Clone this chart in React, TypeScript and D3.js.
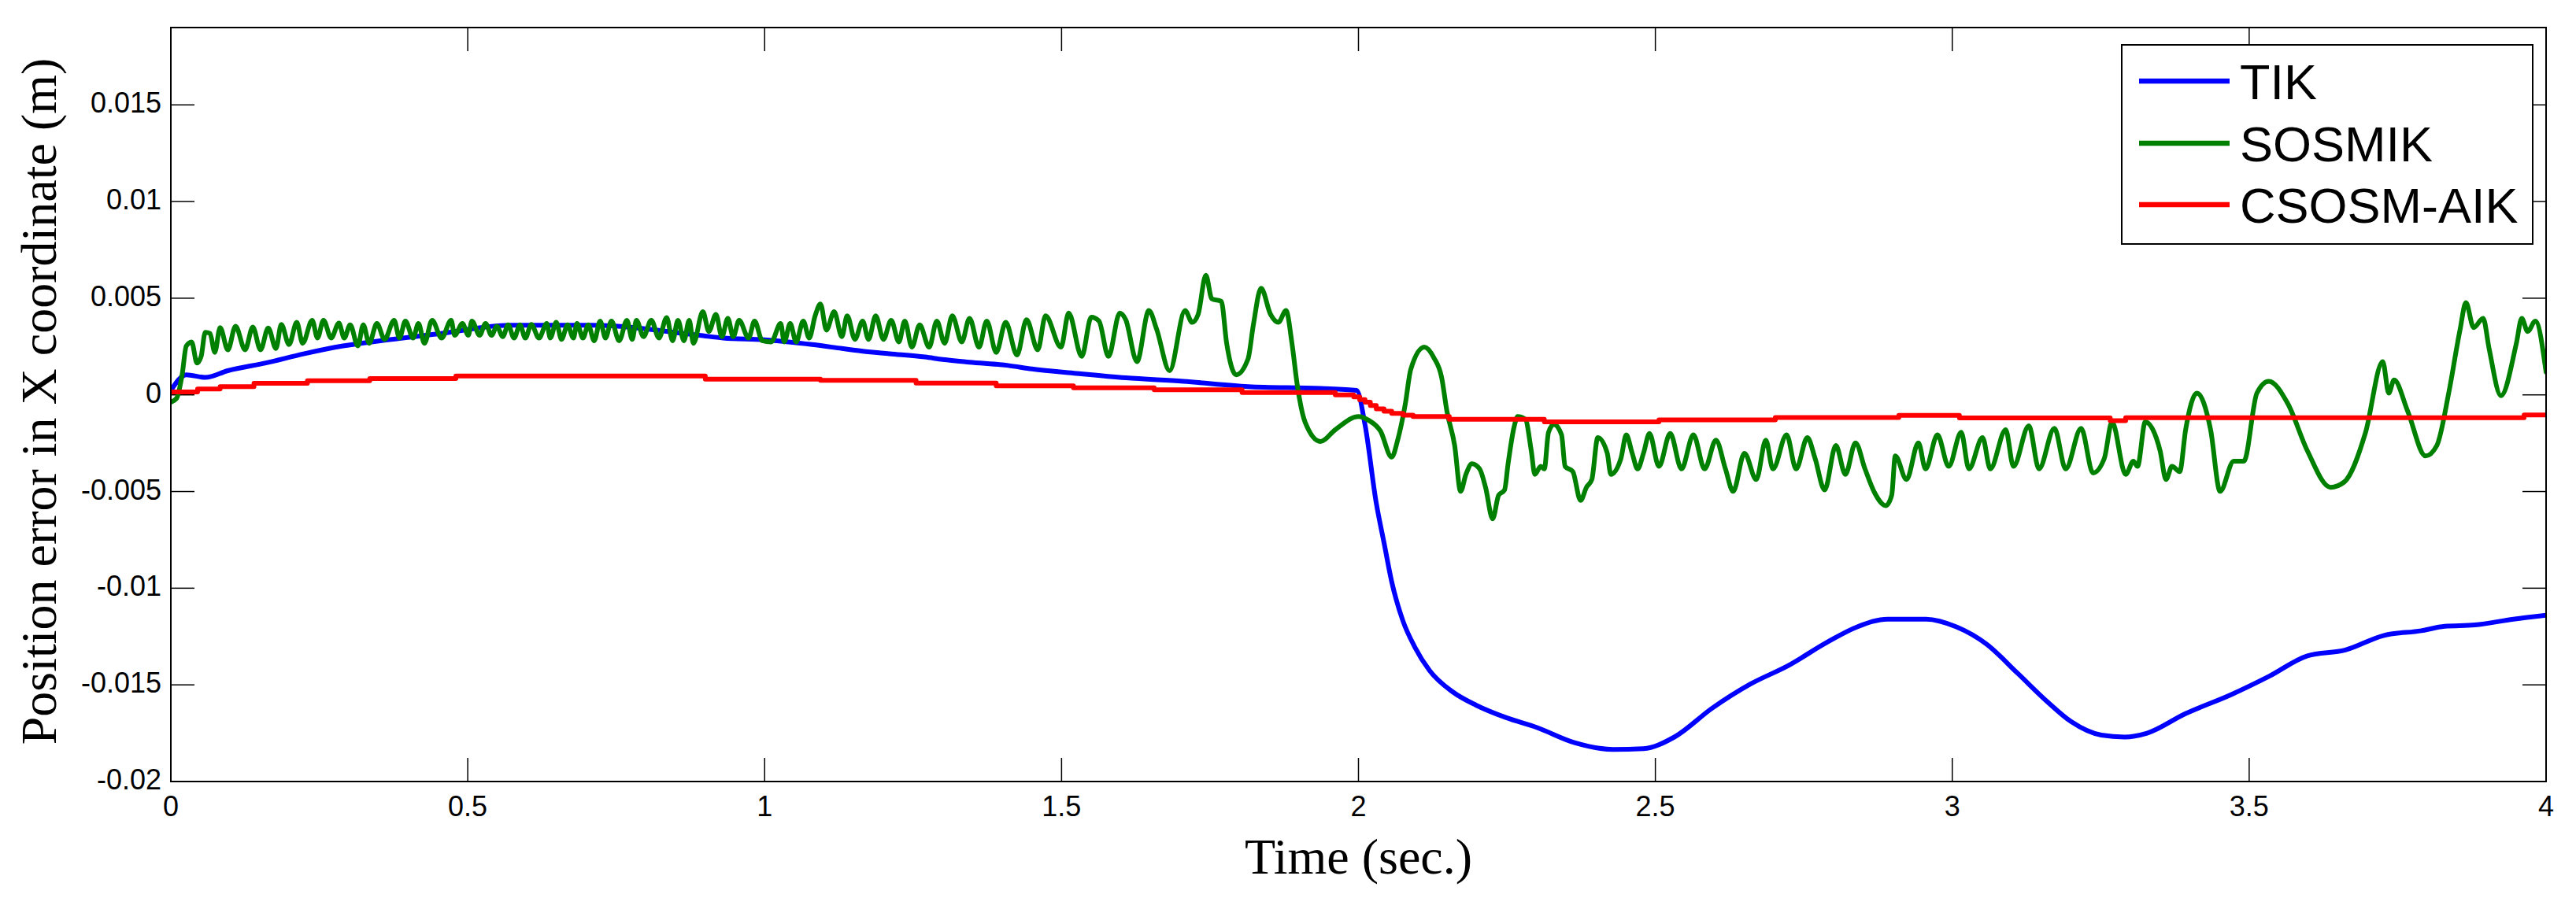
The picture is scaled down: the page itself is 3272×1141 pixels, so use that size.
import React from "react";
import * as d3 from "d3";

// time (s), position error (×1e-3 m)
const tikData: [number, number][] = [
  [0, 0.23], [0.026, 1.04], [0.058, 0.9], [0.096, 1.25], [0.16, 1.65], [0.225, 2.13], [0.29, 2.53],
  [0.353, 2.8], [0.45, 3.15], [0.57, 3.6], [0.71, 3.6], [0.89, 3.08], [0.93, 2.94], [1.0, 2.85],
  [1.08, 2.6], [1.13, 2.4], [1.165, 2.26], [1.21, 2.13], [1.27, 1.96], [1.3, 1.83], [1.345, 1.69],
  [1.41, 1.52], [1.45, 1.34], [1.525, 1.11], [1.608, 0.88], [1.705, 0.7], [1.814, 0.43], [1.936, 0.33],
  [1.997, 0.23], [2.011, -1.54], [2.03, -5.6], [2.043, -7.64], [2.056, -9.67], [2.075, -11.7],
  [2.095, -13.05], [2.12, -14.27], [2.159, -15.37], [2.198, -16.05], [2.249, -16.7], [2.3, -17.2],
  [2.365, -18.0], [2.429, -18.34], [2.48, -18.3], [2.532, -17.7], [2.596, -16.2], [2.66, -14.96],
  [2.724, -14.0], [2.789, -12.8], [2.84, -12.0], [2.891, -11.6], [2.956, -11.6], [3.007, -12.0],
  [3.058, -12.9], [3.11, -14.4], [3.161, -15.9], [3.2, -16.9], [3.251, -17.6], [3.29, -17.7],
  [3.328, -17.5], [3.392, -16.5], [3.47, -15.5], [3.534, -14.55], [3.598, -13.5], [3.662, -13.2],
  [3.726, -12.45], [3.79, -12.2], [3.829, -11.97], [3.88, -11.9], [3.945, -11.6], [4.0, -11.4],
];

const sosmikData: [number, number][] = [
  [0, -0.38], [0.0096, -0.18], [0.019, 1.04], [0.026, 2.53], [0.035, 2.74], [0.044, 1.65], [0.051, 1.99],
  [0.058, 3.24], [0.066, 3.18], [0.074, 2.2], [0.083, 3.48], [0.096, 2.33], [0.109, 3.55], [0.125, 2.33],
  [0.138, 3.51], [0.151, 2.33], [0.164, 3.46], [0.177, 2.4], [0.186, 3.64], [0.199, 2.6], [0.212, 3.75],
  [0.222, 2.67], [0.238, 3.86], [0.247, 2.94], [0.257, 3.86], [0.27, 2.94], [0.283, 3.71], [0.292, 2.94],
  [0.302, 3.62], [0.315, 2.53], [0.324, 3.62], [0.334, 2.67], [0.347, 3.69], [0.36, 2.87], [0.376, 3.86],
  [0.385, 2.94], [0.395, 3.82], [0.408, 2.94], [0.417, 3.69], [0.427, 2.67], [0.44, 3.86], [0.456, 2.94],
  [0.472, 3.86], [0.478, 3.08], [0.491, 3.69], [0.501, 3.08], [0.507, 3.82], [0.52, 3.08], [0.53, 3.69],
  [0.54, 3.08], [0.549, 3.55], [0.559, 3.01], [0.568, 3.62], [0.578, 2.94], [0.588, 3.62], [0.597, 2.94],
  [0.607, 3.64], [0.62, 2.94], [0.633, 3.69], [0.639, 2.94], [0.649, 3.75], [0.658, 2.87], [0.668, 3.62],
  [0.678, 2.94], [0.684, 3.69], [0.694, 2.94], [0.703, 3.62], [0.713, 2.8], [0.723, 3.82], [0.732, 2.94],
  [0.742, 3.82], [0.755, 2.8], [0.768, 3.86], [0.777, 2.87], [0.784, 3.86], [0.796, 3.01], [0.809, 3.86],
  [0.822, 2.94], [0.835, 4.0], [0.845, 2.8], [0.854, 3.86], [0.864, 2.8], [0.873, 3.86], [0.88, 2.67],
  [0.896, 4.3], [0.906, 3.28], [0.918, 4.16], [0.928, 3.01], [0.938, 3.96], [0.947, 3.01], [0.957, 3.86],
  [0.973, 2.94], [0.983, 3.82], [0.996, 2.8],
  [1.011, 2.74], [1.027, 3.69], [1.033, 2.74], [1.043, 3.69], [1.053, 2.74], [1.065, 3.82], [1.075, 2.94],
  [1.085, 4.09], [1.094, 4.7], [1.104, 3.35], [1.117, 4.3], [1.13, 3.01], [1.139, 4.09], [1.152, 2.87],
  [1.165, 3.82], [1.175, 2.87], [1.187, 4.09], [1.2, 2.87], [1.213, 3.86], [1.226, 2.74], [1.236, 3.82],
  [1.248, 2.47], [1.261, 3.62], [1.277, 2.47], [1.29, 3.82], [1.303, 2.67], [1.316, 4.09], [1.332, 2.74],
  [1.345, 3.96], [1.361, 2.47], [1.374, 3.82], [1.39, 2.2], [1.406, 3.75], [1.425, 2.06], [1.441, 3.89],
  [1.46, 2.33], [1.473, 4.09], [1.499, 2.47], [1.512, 4.23], [1.534, 1.99], [1.55, 4.02], [1.563, 3.82],
  [1.579, 1.99], [1.598, 4.23], [1.608, 3.89], [1.627, 1.72], [1.647, 4.36], [1.66, 3.41], [1.682, 1.25],
  [1.708, 4.36], [1.72, 3.75], [1.73, 4.16], [1.743, 6.19], [1.753, 4.97], [1.769, 4.84], [1.778, 2.67],
  [1.794, 1.04], [1.814, 1.86], [1.823, 3.62], [1.836, 5.51], [1.852, 4.16], [1.865, 3.75], [1.878, 4.36],
  [1.888, 2.67], [1.897, 0.5], [1.91, -1.4], [1.936, -2.41], [1.961, -1.8], [2.0, -1.12],
  [2.018, -1.33], [2.037, -1.87], [2.056, -3.22], [2.066, -2.34], [2.079, -0.45], [2.088, 1.31],
  [2.111, 2.47], [2.127, 1.92], [2.14, 0.91], [2.149, -0.85], [2.162, -2.62], [2.172, -4.99], [2.181, -4.11],
  [2.191, -3.56], [2.204, -3.83], [2.214, -4.78], [2.226, -6.41], [2.236, -5.19], [2.246, -4.92],
  [2.252, -3.56], [2.262, -1.67], [2.268, -1.12], [2.281, -1.26], [2.291, -2.89], [2.297, -4.11],
  [2.307, -3.7], [2.313, -3.83], [2.32, -1.94], [2.329, -1.53], [2.342, -2.07], [2.348, -3.7], [2.361, -3.97],
  [2.374, -5.46], [2.384, -4.78], [2.393, -4.38], [2.403, -2.21], [2.419, -3.02], [2.425, -4.11],
  [2.442, -3.29], [2.451, -2.07], [2.461, -3.02], [2.47, -3.83], [2.48, -3.02], [2.49, -2.0], [2.506, -3.7],
  [2.525, -2.0], [2.544, -3.83], [2.564, -2.07], [2.583, -3.83], [2.602, -2.34], [2.618, -3.83],
  [2.631, -4.99], [2.65, -3.02], [2.67, -4.38], [2.686, -2.34], [2.698, -3.83], [2.721, -2.07],
  [2.737, -3.83], [2.756, -2.21], [2.769, -3.29], [2.785, -4.92], [2.804, -2.62], [2.82, -4.11],
  [2.837, -2.48], [2.853, -3.83], [2.869, -5.05], [2.888, -5.73], [2.898, -5.19], [2.904, -3.16],
  [2.923, -4.38], [2.943, -2.48], [2.955, -3.83], [2.975, -2.07], [2.994, -3.7],
  [3.015, -1.94], [3.028, -3.83], [3.051, -2.21], [3.064, -3.83], [3.09, -1.8], [3.103, -3.7],
  [3.129, -1.6], [3.146, -3.83], [3.172, -1.73], [3.191, -3.83], [3.217, -1.73], [3.237, -4.04],
  [3.256, -3.29], [3.269, -1.4], [3.292, -4.11], [3.305, -3.43], [3.312, -3.7], [3.325, -1.4],
  [3.35, -2.89], [3.36, -4.38], [3.37, -3.7], [3.383, -3.97], [3.393, -1.8], [3.412, 0.09], [3.435, -1.8],
  [3.451, -4.99], [3.474, -3.43], [3.491, -3.43], [3.513, 0.09], [3.533, 0.7], [3.565, -0.45],
  [3.598, -2.89], [3.637, -4.78], [3.66, -4.51], [3.696, -1.94], [3.725, 1.72], [3.735, 0.09],
  [3.744, 0.77], [3.767, -0.85], [3.797, -3.16], [3.816, -2.62], [3.836, 0.09], [3.855, 3.35],
  [3.865, 4.77], [3.878, 3.48], [3.894, 3.96], [3.904, 2.4], [3.924, -0.04], [3.95, 2.67], [3.959, 3.96],
  [3.969, 3.28], [3.982, 3.82], [4.0, 1.18],
];

// step-after values
const csosmData: [number, number][] = [
  [0, 0.15], [0.045, 0.3], [0.083, 0.43], [0.14, 0.6], [0.23, 0.73], [0.335, 0.84], [0.48, 0.98],
  [0.9, 0.81], [1.094, 0.75], [1.255, 0.61], [1.39, 0.47], [1.52, 0.37], [1.656, 0.26], [1.804, 0.12],
  [1.961, 0.0], [1.992, -0.1], [2.002, -0.25], [2.011, -0.38], [2.02, -0.55], [2.03, -0.72], [2.043, -0.85],
  [2.056, -0.96], [2.075, -1.05], [2.092, -1.12], [2.153, -1.26], [2.313, -1.4], [2.506, -1.29],
  [2.702, -1.17], [2.91, -1.06], [3.012, -1.19], [3.266, -1.33], [3.292, -1.18], [3.963, -1.04], [4.0, -1.04],
];

const xTicks = [0, 0.5, 1, 1.5, 2, 2.5, 3, 3.5, 4];
const yTicks = [-0.02, -0.015, -0.01, -0.005, 0, 0.005, 0.01, 0.015];
const yTickLabels = ["-0.02", "-0.015", "-0.01", "-0.005", "0", "0.005", "0.01", "0.015"];
const seriesNames = ["TIK", "SOSMIK", "CSOSM-AIK"];
const seriesColors = ["#0000ff", "#008000", "#ff0000"];

export default function App() {
  const W = 3272, H = 1141;
  const L = 217, R = 3234, T = 35, B = 993;
  const x = d3.scaleLinear().domain([0, 4]).range([L, R]);
  const y = d3.scaleLinear().domain([-0.02, 0.019]).range([B, T]);

  const smooth = d3.line<[number, number]>()
    .x((d) => x(d[0]))
    .y((d) => y(d[1] / 1000))
    .curve(d3.curveMonotoneX);
  const step = d3.line<[number, number]>()
    .x((d) => x(d[0]))
    .y((d) => y(d[1] / 1000))
    .curve(d3.curveStepAfter);

  const sans = "Arial, 'Liberation Sans', Helvetica, sans-serif";
  const serif = "'Times New Roman', 'Liberation Serif', Times, serif";
  const tickLen = 30;
  const sw = 6;

  const legX = 2695, legY = 57, legW = 522, legH = 253;
  const legRows = [103, 182, 260];

  return (
    <svg width={W} height={H} style={{ position: "absolute", left: 0, top: 0, background: "#fff" }}>
      <rect x={0} y={0} width={W} height={H} fill="#fff" />
      <defs>
        <clipPath id="plotClip">
          <rect x={L} y={T} width={R - L} height={B - T} />
        </clipPath>
      </defs>
      {/* ticks */}
      {xTicks.map((t) => (
        <g key={"xt" + t}>
          <line x1={x(t)} x2={x(t)} y1={B} y2={B - tickLen} stroke="#000" strokeWidth={1.5} />
          <line x1={x(t)} x2={x(t)} y1={T} y2={T + tickLen} stroke="#000" strokeWidth={1.5} />
          <text x={x(t)} y={1037} textAnchor="middle" fontFamily={sans} fontSize={36} fill="#000">
            {String(t)}
          </text>
        </g>
      ))}
      {yTicks.map((v, i) => (
        <g key={"yt" + v}>
          <line x1={L} x2={L + tickLen} y1={y(v)} y2={y(v)} stroke="#000" strokeWidth={1.5} />
          <line x1={R} x2={R - tickLen} y1={y(v)} y2={y(v)} stroke="#000" strokeWidth={1.5} />
          <text x={205} y={y(v) + 10} textAnchor="end" fontFamily={sans} fontSize={36} fill="#000">
            {yTickLabels[i]}
          </text>
        </g>
      ))}
      {/* series */}
      <g clipPath="url(#plotClip)" fill="none" strokeLinejoin="round" strokeLinecap="round">
        <path d={smooth(tikData) || ""} stroke={seriesColors[0]} strokeWidth={sw} />
        <path d={smooth(sosmikData) || ""} stroke={seriesColors[1]} strokeWidth={sw} />
        <path d={step(csosmData) || ""} stroke={seriesColors[2]} strokeWidth={sw} />
      </g>
      {/* box */}
      <rect x={L} y={T} width={R - L} height={B - T} fill="none" stroke="#000" strokeWidth={2} />
      {/* legend */}
      <rect x={legX} y={legY} width={legW} height={legH} fill="#fff" stroke="#000" strokeWidth={2} />
      {seriesNames.map((n, i) => (
        <g key={n}>
          <line x1={2717} x2={2832} y1={legRows[i]} y2={legRows[i]} stroke={seriesColors[i]} strokeWidth={6.5} />
          <text x={2845} y={legRows[i] + 23} fontFamily={sans} fontSize={63} fill="#000">
            {n}
          </text>
        </g>
      ))}
      {/* axis labels */}
      <text x={(L + R) / 2} y={1110} textAnchor="middle" fontFamily={serif} fontSize={64} fill="#000">
        Time (sec.)
      </text>
      <text
        transform={`translate(71, 510) rotate(-90)`}
        textAnchor="middle"
        fontFamily={serif}
        fontSize={64}
        fill="#000"
      >
        Position error in X coordinate (m)
      </text>
    </svg>
  );
}
